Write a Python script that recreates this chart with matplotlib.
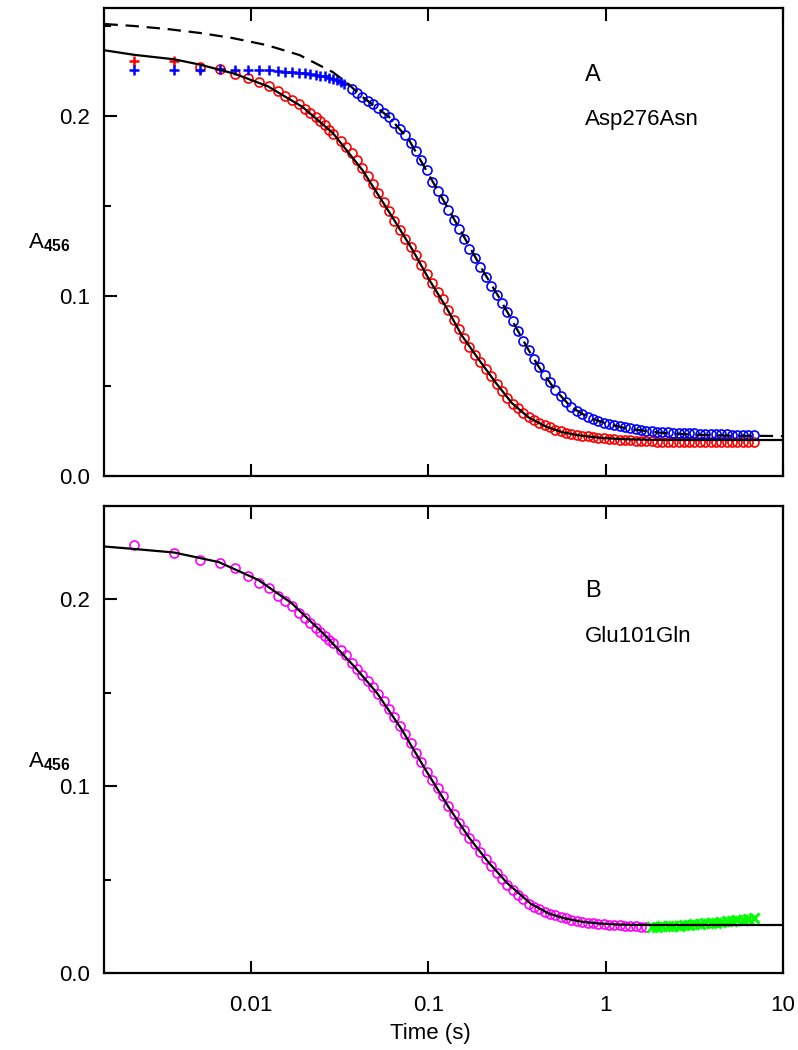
import matplotlib
matplotlib.use("Agg")
import matplotlib.pyplot as plt
from matplotlib.ticker import FixedLocator, NullLocator, FixedFormatter

plt.rcParams['font.family'] = ['Liberation Sans', 'DejaVu Sans']
plt.rcParams['mathtext.fontset'] = 'custom'
plt.rcParams['mathtext.rm'] = 'Liberation Sans'
plt.rcParams['mathtext.bf'] = 'Liberation Sans:bold'

# shared time grid (s) for the densely sampled part of the traces
t_grid = [0.0322, 0.0345, 0.037, 0.0397, 0.0425, 0.0456, 0.0489, 0.0524, 0.0562, 0.0602,
          0.0646, 0.0692, 0.0742, 0.0796, 0.0853, 0.0915, 0.098, 0.105, 0.113, 0.121,
          0.13, 0.139, 0.149, 0.16, 0.171, 0.184, 0.197, 0.211, 0.226, 0.243,
          0.26, 0.279, 0.299, 0.32, 0.343, 0.368, 0.395, 0.423, 0.454, 0.486,
          0.521, 0.559, 0.599, 0.642, 0.688, 0.738, 0.791, 0.848, 0.909, 0.974,
          1.04, 1.12, 1.2, 1.29, 1.38, 1.48, 1.58, 1.7, 1.82, 1.95,
          2.09, 2.24, 2.4, 2.58, 2.76, 2.96, 3.17, 3.4, 3.65, 3.91,
          4.19, 4.49, 4.81, 5.16, 5.53, 5.93, 6.36, 6.9]
# early (linearly spaced) time points
t_early = [0.0052, 0.0067, 0.0082, 0.0097, 0.0112, 0.0127, 0.0142, 0.0157, 0.0172, 0.0187,
           0.0202, 0.0217, 0.0232, 0.0247, 0.0262, 0.0277, 0.0292]

# ---------------- Panel A data ----------------
red_plus_t = [0.0022, 0.0037]
red_plus_v = [0.2306, 0.2306]

red_early_v = [0.2270, 0.2262, 0.2232, 0.2210, 0.2188, 0.2164, 0.2138, 0.2113, 0.2089, 0.2065,
               0.2040, 0.2015, 0.1992, 0.1970, 0.1948, 0.1925, 0.1902]
red_grid_v = [0.1862, 0.1830, 0.1795, 0.1755, 0.1712, 0.1665, 0.1620, 0.1570, 0.1520, 0.1470,
              0.1418, 0.1368, 0.1318, 0.1275, 0.1230, 0.1175, 0.1120, 0.1075, 0.1025, 0.0985,
              0.0925, 0.0865, 0.0815, 0.0765, 0.0715, 0.0675, 0.0635, 0.0595, 0.0555, 0.0513,
              0.0472, 0.0435, 0.0402, 0.0378, 0.0352, 0.0330, 0.0312, 0.0296, 0.0282, 0.0270,
              0.0258, 0.0248, 0.0240, 0.0234, 0.0229, 0.0224, 0.0220, 0.0216, 0.0212, 0.0209,
              0.0206, 0.0204, 0.0201, 0.0200, 0.0198, 0.0196, 0.0195, 0.0194, 0.0192, 0.0191,
              0.0190, 0.0188, 0.0191, 0.0189, 0.0190, 0.0187, 0.0191, 0.0189, 0.0190, 0.0188,
              0.0190, 0.0189, 0.0190, 0.0188, 0.0191, 0.0189, 0.0190, 0.0189]

blue_plus_t = [0.0022, 0.0037, 0.0052, 0.0067, 0.0082, 0.0097, 0.0112, 0.0127, 0.0142, 0.0157,
               0.0172, 0.0187, 0.0202, 0.0217, 0.0232, 0.0247, 0.0262, 0.0277, 0.0292, 0.0307,
               0.0322, 0.0337]
blue_plus_v = [0.2256, 0.2256, 0.2256, 0.2260, 0.2256, 0.2256, 0.2258, 0.2256, 0.2250, 0.2245,
               0.2242, 0.2240, 0.2239, 0.2235, 0.2230, 0.2225, 0.2220, 0.2212, 0.2205, 0.2200,
               0.2190, 0.2180]
blue_grid_start = 2
blue_grid_v = [0.2150, 0.2128, 0.2106, 0.2086, 0.2064, 0.2042, 0.2018, 0.1994, 0.1962, 0.1928,
               0.1892, 0.1852, 0.1805, 0.1755, 0.1700, 0.1635, 0.1585, 0.1540, 0.1480, 0.1425,
               0.1370, 0.1315, 0.1260, 0.1210, 0.1160, 0.1105, 0.1055, 0.1005, 0.0960, 0.0910,
               0.0860, 0.0805, 0.0750, 0.0700, 0.0652, 0.0603, 0.0560, 0.0520, 0.0478, 0.0445,
               0.0412, 0.0383, 0.0362, 0.0345, 0.0330, 0.0317, 0.0306, 0.0297, 0.0291, 0.0283,
               0.0276, 0.0270, 0.0265, 0.0260, 0.0256, 0.0252, 0.0249, 0.0246, 0.0244, 0.0242,
               0.0241, 0.0240, 0.0239, 0.0238, 0.0237, 0.0236, 0.0235, 0.0234, 0.0233, 0.0232,
               0.0231, 0.0230, 0.0229, 0.0229, 0.0228, 0.0227]

fitA_t = [0.0015, 0.0022, 0.0037, 0.0052, 0.0081, 0.0125, 0.0196, 0.029, 0.0426, 0.0627,
          0.081, 0.1015, 0.126, 0.155, 0.194, 0.241, 0.296, 0.369, 0.46, 0.566,
          0.705, 0.95, 1.3, 1.9, 3.0, 5.0, 10.0]
fitA_v = [0.2365, 0.2340, 0.2315, 0.2285, 0.2235, 0.2165, 0.2050, 0.1906, 0.1700, 0.1440,
          0.1262, 0.1090, 0.0940, 0.0780, 0.0644, 0.0517, 0.0406, 0.0325, 0.0275, 0.0244,
          0.0226, 0.0211, 0.0204, 0.0201, 0.0200, 0.0200, 0.0200]

dashA_t = [0.0015, 0.0022, 0.0034, 0.0052, 0.0079, 0.0123, 0.0188, 0.029, 0.035, 0.0426,
           0.0603, 0.078, 0.1, 0.131, 0.163, 0.201, 0.25, 0.311, 0.369, 0.42,
           0.52, 0.64, 0.8, 1.0, 1.34, 2.06, 3.1, 5.0, 10.0]
dashA_v = [0.2511, 0.2500, 0.2483, 0.2461, 0.2433, 0.2394, 0.2339, 0.2244, 0.2183, 0.2106,
           0.1994, 0.1867, 0.1680, 0.1478, 0.1311, 0.1150, 0.0995, 0.0830, 0.0698, 0.0607,
           0.0478, 0.0383, 0.0325, 0.0293, 0.0262, 0.0240, 0.0230, 0.0224, 0.0222]

# ---------------- Panel B data ----------------
mag_early_t = [0.0022, 0.0037] + t_early
mag_early_v = [0.2289, 0.2246, 0.2209, 0.2193, 0.2166, 0.2123, 0.2088, 0.2060, 0.2018, 0.1990,
               0.1962, 0.1925, 0.1900, 0.1876, 0.1845, 0.1825, 0.1805, 0.1785, 0.1766]
mag_grid_v = [0.1728, 0.1700, 0.1660, 0.1625, 0.1595, 0.1565, 0.1530, 0.1492, 0.1458, 0.1415,
              0.1368, 0.1320, 0.1278, 0.1230, 0.1178, 0.1130, 0.1075, 0.1035, 0.0990, 0.0945,
              0.0895, 0.0850, 0.0802, 0.0765, 0.0725, 0.0688, 0.0650, 0.0612, 0.0575, 0.0538,
              0.0505, 0.0470, 0.0442, 0.0418, 0.0395, 0.0372, 0.0355, 0.0340, 0.0328, 0.0318,
              0.0309, 0.0300, 0.0292, 0.0285, 0.0279, 0.0273, 0.0269, 0.0265, 0.0262, 0.0260,
              0.0258, 0.0257, 0.0255, 0.0253, 0.0251, 0.0249, 0.0248, 0.0247]
green_grid_start = 58
green_grid_v = [0.0246, 0.0247, 0.0249, 0.0250, 0.0252, 0.0254, 0.0256, 0.0258, 0.0260, 0.0262,
                0.0265, 0.0267, 0.0270, 0.0273, 0.0276, 0.0279, 0.0282, 0.0286, 0.0290, 0.0294]

fitB_t = [0.0015, 0.0022, 0.0037, 0.0066, 0.011, 0.017, 0.026, 0.0384, 0.0517, 0.0714,
          0.095, 0.13, 0.17, 0.22, 0.28, 0.38, 0.48, 0.59, 0.73, 0.91,
          1.2, 1.75, 3.0, 5.0, 10.0]
fitB_v = [0.2283, 0.2270, 0.2251, 0.2200, 0.2105, 0.1980, 0.1812, 0.1640, 0.1497, 0.1300,
          0.1100, 0.0890, 0.0725, 0.0590, 0.0480, 0.0370, 0.0318, 0.0292, 0.0275, 0.0265,
          0.0259, 0.0257, 0.0257, 0.0257, 0.0257]

x_ticks = [0.01, 0.1, 1, 10]
x_ticklabels = ['0.01', '0.1', '1', '10']
y_ticks = [0.0, 0.1, 0.2]
y_ticklabels = ['0.0', '0.1', '0.2']
y_minor = [0.05, 0.15, 0.25]

# assemble series
red_t = t_early + t_grid[:len(red_grid_v)]
red_v = red_early_v + red_grid_v
blue_t = t_grid[blue_grid_start:blue_grid_start + len(blue_grid_v)]
mag_t = mag_early_t + t_grid[:len(mag_grid_v)]
mag_v = mag_early_v + mag_grid_v
green_t = t_grid[green_grid_start:green_grid_start + len(green_grid_v)]

W, H = 798, 1050
fig = plt.figure(figsize=(W / 100, H / 100), dpi=100)

def fx(px):
    return px / W

def fy(py):
    return 1 - py / H

axA = fig.add_axes([fx(104), fy(476), fx(783) - fx(104), fy(8) - fy(476)])
axB = fig.add_axes([fx(104), fy(973), fx(783) - fx(104), fy(506) - fy(973)])

FS = 16
ms_circ = 6.5
mew_circ = 1.2

def style(ax, ymax, show_x):
    ax.set_xscale('log')
    ax.set_xlim(0.00149, 10)
    ax.set_ylim(0, ymax)
    ax.xaxis.set_major_locator(FixedLocator(x_ticks))
    ax.xaxis.set_minor_locator(NullLocator())
    if show_x:
        ax.xaxis.set_major_formatter(FixedFormatter(x_ticklabels))
    else:
        ax.set_xticklabels([])
    ax.yaxis.set_major_locator(FixedLocator(y_ticks))
    ax.set_yticklabels(y_ticklabels)
    ax.yaxis.set_minor_locator(FixedLocator([m for m in y_minor if m <= ymax]))
    ax.tick_params(axis='both', which='major', direction='in', length=9, width=1.5,
                   labelsize=FS, top=True, right=False)
    ax.tick_params(axis='y', which='minor', direction='in', length=5, width=1.5, right=False)
    ax.tick_params(axis='y', which='major', pad=10)
    ax.tick_params(axis='x', which='major', pad=16)
    for s in ax.spines.values():
        s.set_linewidth(1.6)

# Panel A
axA.plot(red_t, red_v, linestyle='none', marker='o', ms=ms_circ, mfc='none', mec='#ff0000', mew=mew_circ, zorder=2)
axA.plot(red_plus_t, red_plus_v, linestyle='none', marker='+', ms=7, mec='#ff0000', mew=1.8, zorder=2)
axA.plot(blue_t, blue_grid_v, linestyle='none', marker='o', ms=ms_circ, mfc='none', mec='#0000ff', mew=mew_circ, zorder=2)
axA.plot(blue_plus_t, blue_plus_v, linestyle='none', marker='+', ms=7, mec='#0000ff', mew=1.8, zorder=2)
axA.plot(fitA_t, fitA_v, color='black', lw=1.6, zorder=3)
axA.plot(dashA_t, dashA_v, color='black', lw=1.6, linestyle=(0, (6, 3.5)), zorder=3)
style(axA, 0.26, False)

# Panel B
axB.plot(mag_t, mag_v, linestyle='none', marker='o', ms=ms_circ, mfc='none', mec='#ff00ff', mew=mew_circ, zorder=2)
axB.plot(green_t, green_grid_v, linestyle='none', marker='x', ms=6.5, mec='#00ff00', mew=2.2, zorder=2)
axB.plot(fitB_t, fitB_v, color='black', lw=1.6, zorder=3)
style(axB, 0.25, True)

# text labels (positions in pixels)
fig.text(fx(585), fy(75), 'A', fontsize=FS + 1, ha='left', va='center')
fig.text(fx(585), fy(119), 'Asp276Asn', fontsize=FS, ha='left', va='center')
fig.text(fx(585), fy(591), 'B', fontsize=FS + 1, ha='left', va='center')
fig.text(fx(585), fy(636), 'Glu101Gln', fontsize=FS, ha='left', va='center')

fig.text(fx(28), fy(243), r'A$_{\mathbf{456}}$', fontsize=FS, ha='left', va='center')
fig.text(fx(28), fy(762), r'A$_{\mathbf{456}}$', fontsize=FS, ha='left', va='center')
fig.text(fx(430), fy(1033), 'Time (s)', fontsize=FS, ha='center', va='center')

fig.savefig('out.png', dpi=100)
